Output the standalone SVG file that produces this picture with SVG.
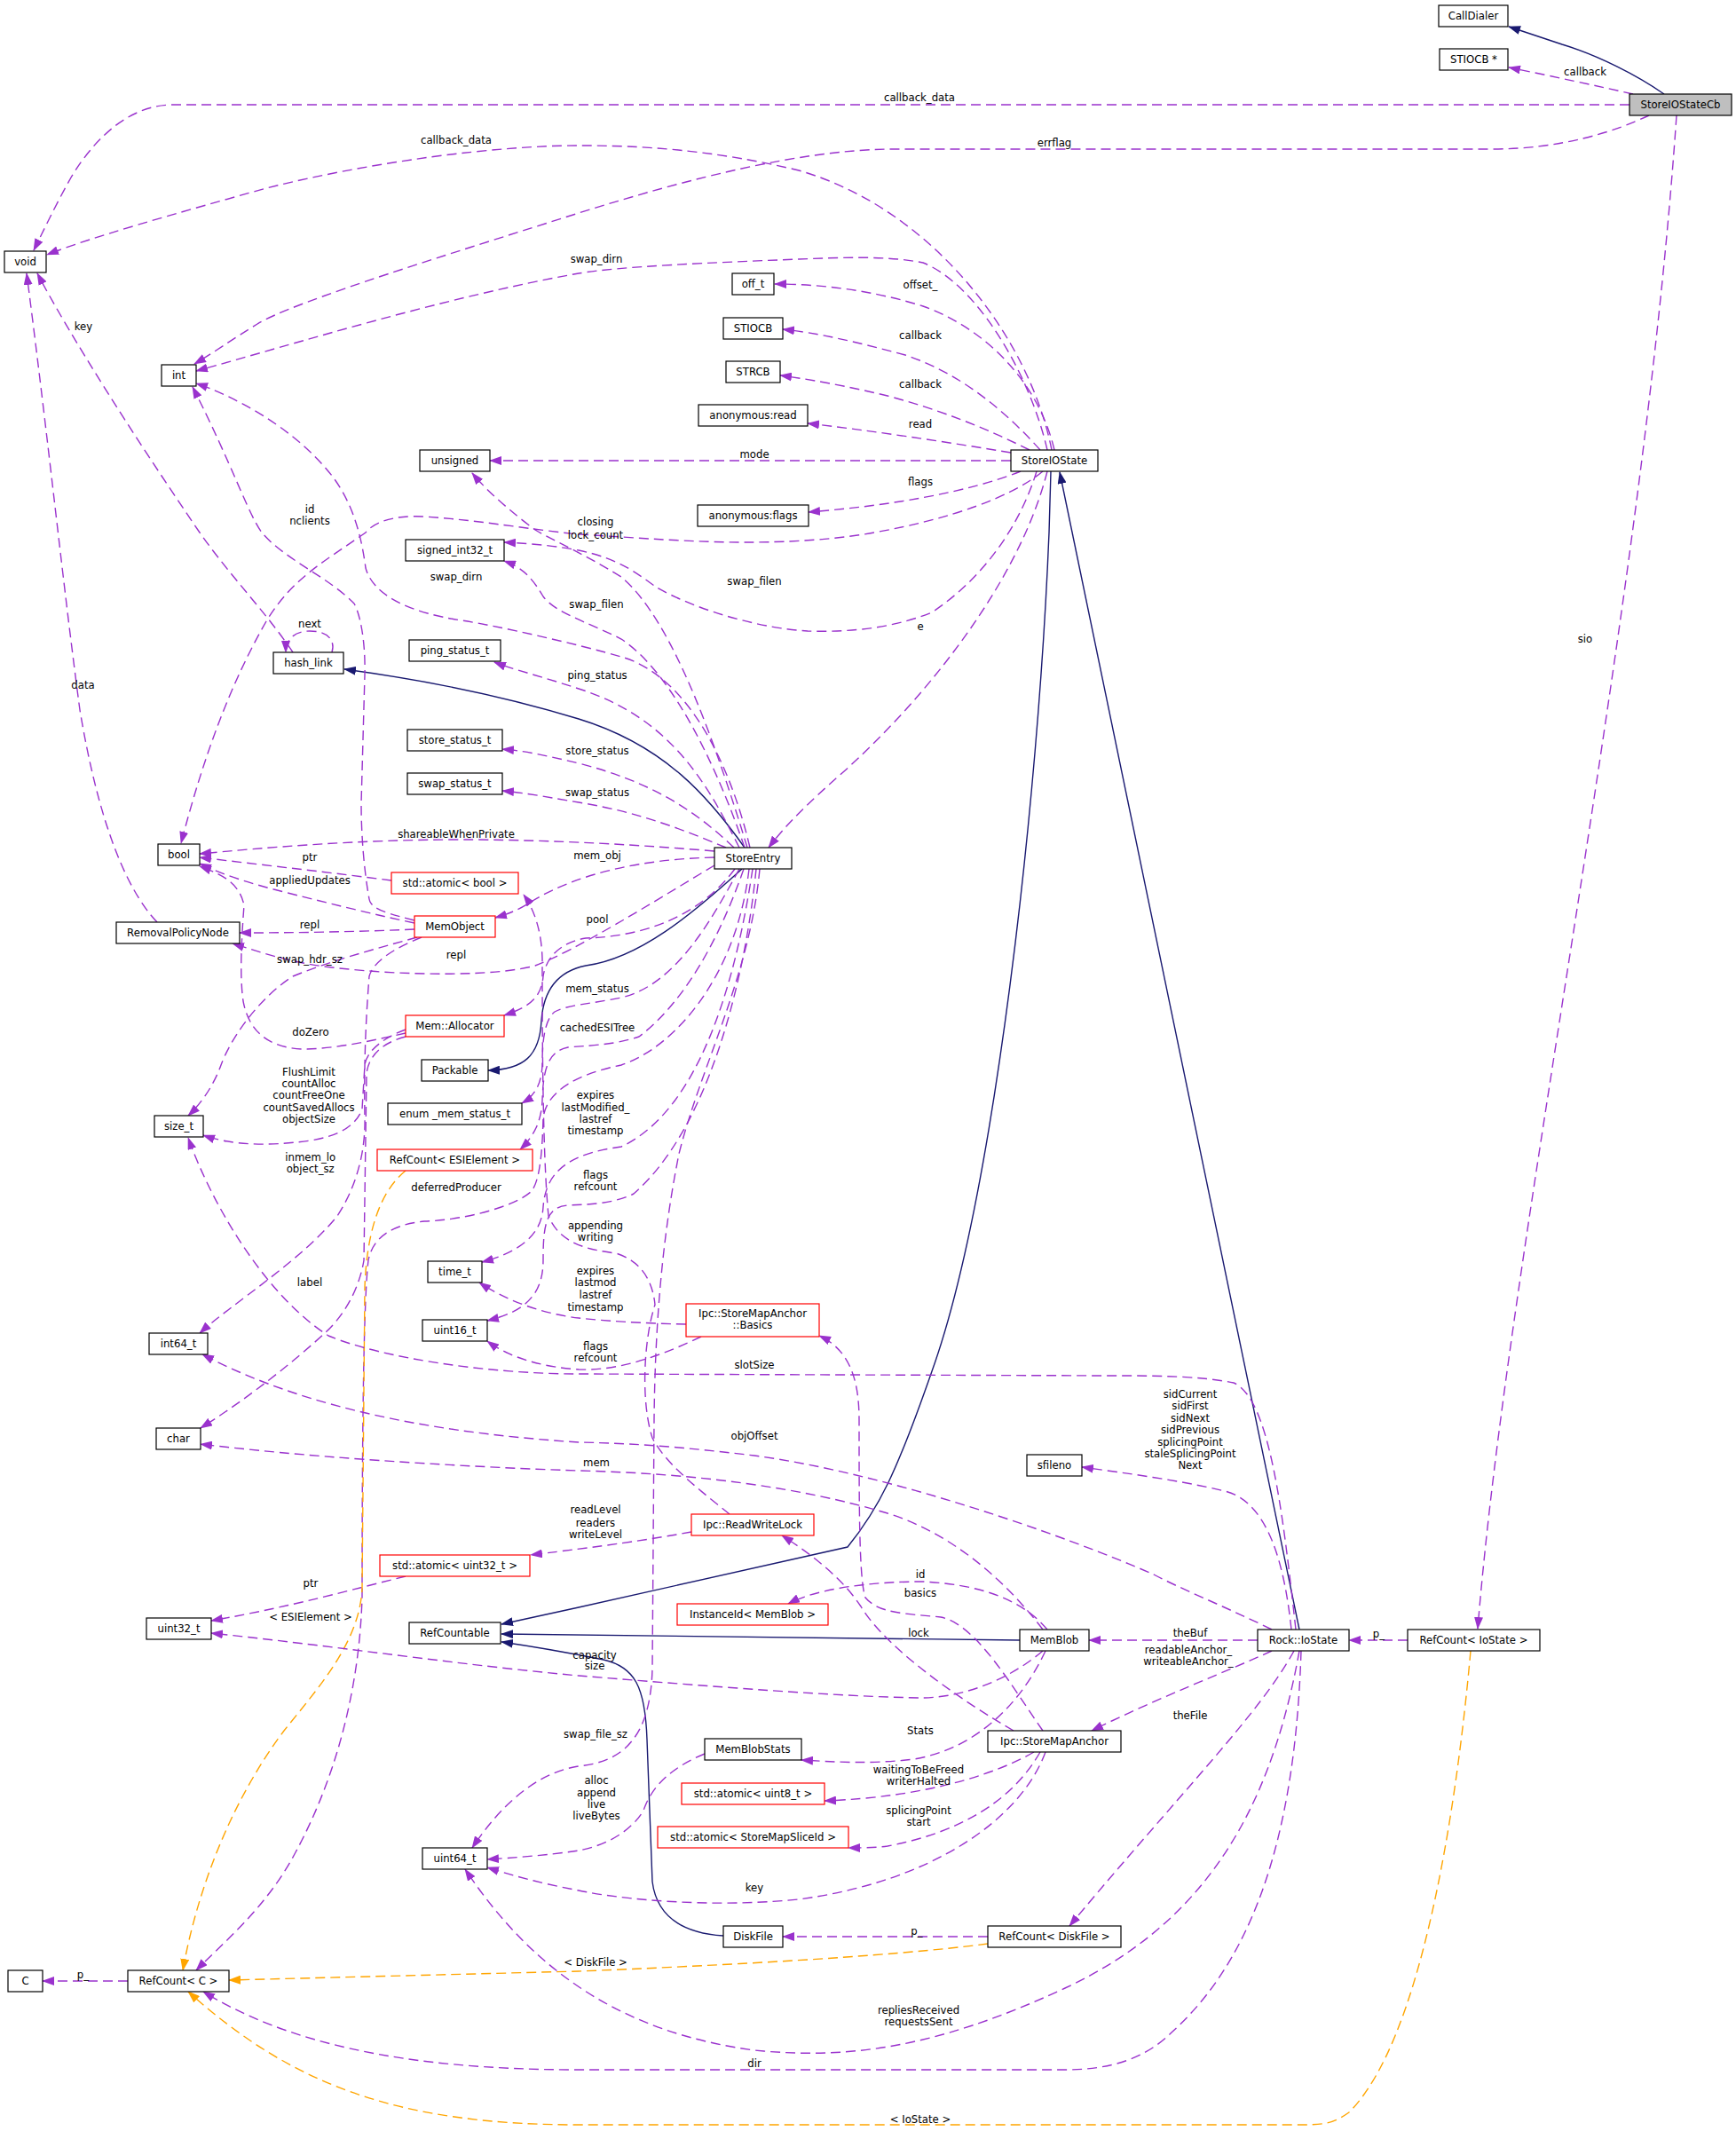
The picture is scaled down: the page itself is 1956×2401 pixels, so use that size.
<svg xmlns="http://www.w3.org/2000/svg" width="1956" height="2401" viewBox="0 0 1956 2401">
<style>
text{font-family:"DejaVu Sans","Liberation Sans",sans-serif;font-size:11.7px;fill:#000;text-anchor:middle}
.n rect{fill:#fff;stroke:#000;stroke-width:1.2}
.n.r rect{stroke:#ff0000}
.n.g rect{fill:#bfbfbf}
.e{fill:none;stroke:#9a32cd;stroke-width:1.4;stroke-dasharray:11,6;marker-end:url(#ap)}
.i{fill:none;stroke:#191970;stroke-width:1.4;marker-end:url(#an)}
.t{fill:none;stroke:#ffa500;stroke-width:1.4;stroke-dasharray:11,6;marker-end:url(#ao)}
.lp{fill:none;stroke:#9a32cd;stroke-width:1.4;stroke-dasharray:6,4;marker-end:url(#ap)}
</style>
<defs>
<marker id="ap" viewBox="0 0 14 10" refX="13" refY="5" markerWidth="14" markerHeight="10" markerUnits="userSpaceOnUse" orient="auto"><path d="M0,0 L14,5 L0,10 z" fill="#9a32cd"/></marker>
<marker id="an" viewBox="0 0 14 10" refX="13" refY="5" markerWidth="14" markerHeight="10" markerUnits="userSpaceOnUse" orient="auto"><path d="M0,0 L14,5 L0,10 z" fill="#191970"/></marker>
<marker id="ao" viewBox="0 0 14 10" refX="13" refY="5" markerWidth="14" markerHeight="10" markerUnits="userSpaceOnUse" orient="auto"><path d="M0,0 L14,5 L0,10 z" fill="#ffa500"/></marker>
</defs>
<rect x="0" y="0" width="1956" height="2401" fill="#fff"/>
<g id="edges">
<path class="i" d="M1875,106 C1845,85 1800,62 1760,50 L1700,30"/>
<path class="e" d="M1840,106 C1800,97 1750,86 1700,76"/>
<path class="e" d="M1836,118 L195,118 C150,118 110,150 80,200 C62,232 48,262 38,282"/>
<path class="e" d="M1858,130 C1820,148 1760,168 1680,168 L1000,168 C900,170 780,200 652,240 C520,282 330,340 290,365 C262,382 240,398 219,410"/>
<path class="e" d="M1889,130 C1850,700 1700,1400 1665,1835"/>
<path class="e" d="M1185,507 C1160,380 1050,235 900,192 C800,168 720,164 652,164 C560,164 420,182 300,212 C200,240 100,268 53,287"/>
<path class="e" d="M1180,507 C1160,420 1100,320 1040,296 C1000,288 950,290 900,292 C800,296 700,300 652,308 C500,335 330,388 221,418"/>
<path class="e" d="M1188,507 C1170,430 1110,370 1040,345 C980,326 920,320 873,320"/>
<path class="e" d="M1172,507 C1130,460 1080,420 1020,400 C960,384 920,375 882,371"/>
<path class="e" d="M1160,507 C1110,482 1060,462 1000,446 C950,434 910,427 879,423"/>
<path class="e" d="M1139,510 C1060,497 980,485 910,477"/>
<path class="e" d="M1139,519 L552,519"/>
<path class="e" d="M1150,531 C1090,555 1000,570 911,577"/>
<path class="e" d="M1168,531 C1150,590 1110,650 1050,690 C1000,710 950,712 910,711 C860,708 790,690 740,662 C720,648 700,630 652,620 C620,614 590,612 568,611"/>
<path class="e" d="M1175,531 C1140,560 1070,585 985,600 C930,610 870,611 839,611 C780,611 720,606 652,602 C600,597 540,586 478,582 C440,580 420,590 412,600 C370,630 330,650 300,700 C260,770 230,850 204,950"/>
<path class="e" d="M842,955 C810,850 760,700 700,650 C660,625 625,610 603,597 C580,580 550,555 532,533"/>
<path class="e" d="M1180,531 C1150,650 1050,780 950,870 C910,905 885,930 866,955"/>
<path class="i" d="M1464,1836 L1194,532"/>
<path class="i" d="M1184,531 L1182,600 C1170,900 1120,1350 1050,1545 C1010,1660 990,1700 955,1743 L652,1811 L565,1830"/>
<path class="i" d="M1149,1848 L565,1841"/>
<path class="i" d="M815,2181 C770,2178 740,2160 735,2120 L729,1960 C727,1900 715,1878 680,1870 C640,1862 600,1855 565,1850"/>
<path class="i" d="M839,955 C800,900 750,840 652,810 C560,782 470,765 388,754"/>
<path class="i" d="M836,979 C780,1030 720,1080 660,1088 C625,1095 612,1120 610,1150 C608,1190 590,1205 550,1206"/>
<path class="e" d="M845,955 C820,850 770,760 700,740 C652,726 560,705 520,699 C460,690 420,670 412,640 C408,610 400,570 374,536 C330,480 260,445 221,432"/>
<path class="e" d="M839,955 C810,870 760,760 700,720 C660,700 625,690 612,672 C600,652 590,640 568,632"/>
<path class="e" d="M833,955 C800,890 760,810 652,776 C610,762 580,755 557,746"/>
<path class="e" d="M827,955 C780,910 730,880 652,860 C610,850 590,846 566,844"/>
<path class="e" d="M818,955 C770,935 720,915 652,904 C610,897 590,893 566,891"/>
<path class="e" d="M805,959 C700,950 600,946 520,946 C400,946 300,955 225,962"/>
<path class="e" d="M805,966 C720,968 650,985 600,1015 C585,1025 572,1030 558,1034"/>
<path class="e" d="M805,975 C730,1020 650,1070 603,1088 C560,1100 460,1100 374,1090 C330,1085 300,1075 262,1063"/>
<path class="e" d="M828,979 C790,1030 730,1055 660,1057 C630,1062 615,1080 612,1100 C610,1125 595,1135 568,1144"/>
<path class="e" d="M833,979 C800,1040 760,1110 700,1124 C660,1132 640,1132 625,1140 C612,1150 611,1180 611,1200 C610,1225 600,1236 588,1243"/>
<path class="e" d="M838,979 C810,1060 770,1130 720,1168 C690,1178 660,1178 640,1180 C615,1185 612,1210 611,1240 C610,1265 600,1282 586,1295"/>
<path class="e" d="M848,979 C830,1100 790,1250 700,1292 C640,1300 615,1320 612,1360 C610,1395 580,1412 543,1422"/>
<path class="e" d="M852,979 C840,1100 800,1270 714,1345 C690,1357 660,1357 640,1358 C615,1360 612,1380 612,1420 C612,1460 590,1478 549,1488"/>
<path class="e" d="M856,979 C845,1100 790,1200 765,1300 C745,1400 738,1500 737,1600 L735,1880 C733,1960 700,1985 652,1990 C600,1998 560,2040 532,2082"/>
<path class="e" d="M844,979 C830,1100 760,1180 700,1200 C650,1210 615,1230 612,1260 C611,1300 608,1330 599,1342 C580,1360 520,1375 478,1376 C440,1380 420,1395 415,1420 C410,1460 408,1600 408,1800 C405,1900 380,2000 333,2087 C300,2150 250,2190 221,2220"/>
<path class="e" d="M467,1037 C440,1030 418,1025 416,1013 C410,980 407,940 407,906 L411,760 C412,720 405,690 399,680 C370,650 320,630 295,600 C280,580 260,520 217,436"/>
<path class="e" d="M467,1040 C420,1030 380,1020 320,1005 C280,995 250,985 225,973"/>
<path class="e" d="M441,992 C380,984 300,975 225,966"/>
<path class="e" d="M467,1047 C400,1050 330,1051 270,1051"/>
<path class="e" d="M470,1056 C420,1070 374,1082 330,1100 C291,1125 260,1170 249,1200 C240,1225 225,1245 212,1257"/>
<path class="e" d="M475,1056 C440,1070 420,1085 416,1100 C412,1150 410,1200 411,1260 C412,1300 400,1340 380,1370 C340,1420 260,1470 225,1502"/>
<path class="e" d="M457,1160 C430,1170 413,1185 411,1200 L408,1250 C400,1270 380,1280 350,1285 C300,1292 260,1290 229,1279"/>
<path class="e" d="M457,1164 C420,1172 380,1182 340,1182 C300,1180 280,1160 274,1128 C270,1100 272,1059 275,1020 C270,995 250,985 225,976"/>
<path class="e" d="M457,1168 C430,1175 415,1190 413,1210 L410,1420 C405,1450 390,1480 366,1502 C330,1535 280,1575 226,1609"/>
<path class="e" d="M457,1776 C400,1790 330,1810 238,1826"/>
<path class="t" d="M457,1319 C425,1345 413,1395 411,1450 L408,1790 C405,1850 360,1900 320,1950 C260,2030 222,2130 206,2220"/>
<path class="e" d="M822,1706 C790,1680 750,1650 735,1620 C722,1580 725,1510 738,1470 C735,1440 720,1420 694,1412 C660,1408 630,1400 618,1370 C611,1300 611,1150 611,1080 C610,1045 600,1022 590,1008"/>
<path class="e" d="M779,1726 C730,1735 680,1742 598,1752"/>
<path class="e" d="M773,1492 C720,1491 680,1488 652,1485 C610,1480 570,1465 540,1445"/>
<path class="e" d="M790,1506 C750,1525 700,1545 652,1543 C610,1540 575,1530 549,1511"/>
<path class="e" d="M1460,1836 C1445,1700 1430,1575 1390,1558 C1350,1550 1300,1550 1250,1550 L652,1548 C550,1548 430,1530 370,1505 C300,1460 240,1360 212,1282"/>
<path class="e" d="M1433,1836 C1380,1810 1330,1790 1300,1774 C1200,1730 1000,1660 850,1640 C750,1628 700,1626 652,1625 C500,1615 350,1590 228,1526"/>
<path class="e" d="M1455,1836 C1445,1740 1420,1690 1380,1680 C1330,1668 1270,1660 1219,1653"/>
<path class="e" d="M1175,1836 C1140,1790 1080,1730 1000,1705 C900,1675 780,1660 652,1657 C500,1652 330,1640 226,1627"/>
<path class="e" d="M1180,1836 C1150,1800 1100,1785 1040,1782 C980,1782 920,1790 888,1807"/>
<path class="e" d="M1175,1950 C1140,1900 1100,1830 1060,1822 C1020,1818 990,1818 975,1800 C968,1780 968,1700 968,1600 C968,1550 955,1520 923,1505"/>
<path class="e" d="M1142,1950 C1090,1920 1000,1860 970,1810 C950,1780 920,1755 881,1730"/>
<path class="e" d="M1175,1860 C1140,1890 1090,1912 1040,1913 C950,1912 800,1900 652,1888 C520,1876 380,1855 238,1840"/>
<path class="e" d="M1178,1860 C1150,1920 1100,1970 1030,1982 C980,1988 940,1985 903,1983"/>
<path class="e" d="M1417,1848 L1227,1848"/>
<path class="e" d="M1433,1860 C1390,1880 1300,1915 1230,1950"/>
<path class="e" d="M1458,1860 C1420,1930 1330,2020 1205,2170"/>
<path class="e" d="M1464,1860 C1430,2050 1350,2170 1200,2240 C1050,2310 950,2320 850,2310 C700,2290 600,2220 524,2106"/>
<path class="e" d="M1466,1860 C1460,2050 1420,2200 1320,2290 C1290,2320 1250,2332 1200,2332 L652,2332 C450,2332 320,2300 229,2244"/>
<path class="e" d="M1586,1848 L1520,1848"/>
<path class="t" d="M1657,1860 C1640,2050 1600,2300 1520,2380 C1500,2394 1490,2394 1460,2394 L652,2394 C450,2394 330,2350 212,2244"/>
<path class="e" d="M1165,1974 C1120,2000 1040,2025 929,2029"/>
<path class="e" d="M1172,1974 C1140,2030 1080,2065 1000,2080 C985,2082 970,2082 956,2082"/>
<path class="e" d="M1178,1974 C1150,2050 1050,2120 900,2140 C800,2150 700,2140 652,2130 C610,2122 580,2114 549,2104"/>
<path class="e" d="M794,1976 C760,1990 735,2010 725,2040 C710,2065 680,2080 652,2085 C620,2090 580,2093 549,2095"/>
<path class="e" d="M1113,2182 L882,2182"/>
<path class="t" d="M1113,2190 C1000,2205 800,2215 652,2221 L258,2231"/>
<path class="e" d="M144,2232 L48,2232"/>
<path class="e" d="M330,735 C300,690 260,650 225,600 C150,490 80,380 42,308"/>
<path class="e" d="M374,735 C378,722 370,711 349,711 C330,711 322,722 322,735"/>
<path class="e" d="M177,1039 C140,1000 110,920 90,800 C70,650 55,500 30,308"/>
<g id="edge-labels">
<text x="1786" y="85">callback</text>
<text x="1036" y="114">callback_data</text>
<text x="1188" y="165">errflag</text>
<text x="1786" y="724">sio</text>
<text x="514" y="162">callback_data</text>
<text x="672" y="296">swap_dirn</text>
<text x="1037" y="325">offset_</text>
<text x="1037" y="382">callback</text>
<text x="1037" y="437">callback</text>
<text x="1037" y="482">read</text>
<text x="850" y="516">mode</text>
<text x="1037" y="547">flags</text>
<text x="671" y="592">closing</text>
<text x="671" y="607">lock_count</text>
<text x="850" y="659">swap_filen</text>
<text x="672" y="685">swap_filen</text>
<text x="1037" y="710">e</text>
<text x="94" y="372">key</text>
<text x="349" y="578">id</text>
<text x="349" y="591">nclients</text>
<text x="514" y="654">swap_dirn</text>
<text x="349" y="707">next</text>
<text x="673" y="765">ping_status</text>
<text x="673" y="850">store_status</text>
<text x="673" y="897">swap_status</text>
<text x="93.5" y="776">data</text>
<text x="514" y="944">shareableWhenPrivate</text>
<text x="673" y="968">mem_obj</text>
<text x="349" y="970">ptr</text>
<text x="349" y="996">appliedUpdates</text>
<text x="349" y="1046">repl</text>
<text x="514" y="1080">repl</text>
<text x="349" y="1085">swap_hdr_sz</text>
<text x="673" y="1040">pool</text>
<text x="673" y="1118">mem_status</text>
<text x="673" y="1162">cachedESITree</text>
<text x="350" y="1167">doZero</text>
<text x="348" y="1212">FlushLimit</text>
<text x="348" y="1225">countAlloc</text>
<text x="348" y="1238">countFreeOne</text>
<text x="348" y="1251.5">countSavedAllocs</text>
<text x="348" y="1264.5">objectSize</text>
<text x="349.7" y="1308">inmem_lo</text>
<text x="349.7" y="1321">object_sz</text>
<text x="514" y="1342">deferredProducer</text>
<text x="671" y="1237.7">expires</text>
<text x="671" y="1251.5">lastModified_</text>
<text x="671" y="1264.5">lastref</text>
<text x="671" y="1277.5">timestamp</text>
<text x="671" y="1327.6">flags</text>
<text x="671" y="1340.6">refcount</text>
<text x="671" y="1384.6">appending</text>
<text x="671" y="1397.6">writing</text>
<text x="671" y="1436.3">expires</text>
<text x="671" y="1449.3">lastmod</text>
<text x="671" y="1463">lastref</text>
<text x="671" y="1476.5">timestamp</text>
<text x="349" y="1449">label</text>
<text x="671" y="1521">flags</text>
<text x="671" y="1533.5">refcount</text>
<text x="850" y="1541.5">slotSize</text>
<text x="850" y="1621.5">objOffset</text>
<text x="672" y="1652">mem</text>
<text x="671" y="1705.3">readLevel</text>
<text x="671" y="1719.5">readers</text>
<text x="671" y="1732.5">writeLevel</text>
<text x="1341" y="1575">sidCurrent</text>
<text x="1341" y="1588.4">sidFirst</text>
<text x="1341" y="1601.8">sidNext</text>
<text x="1341" y="1615.2">sidPrevious</text>
<text x="1341" y="1628.6">splicingPoint</text>
<text x="1341" y="1642">staleSplicingPoint</text>
<text x="1341" y="1655.4">Next</text>
<text x="350" y="1788">ptr</text>
<text x="350" y="1826">&lt; ESIElement &gt;</text>
<text x="1037" y="1778">id</text>
<text x="1037" y="1799">basics</text>
<text x="1035" y="1843.5">lock</text>
<text x="670" y="1869">capacity</text>
<text x="670" y="1881.4">size</text>
<text x="1341" y="1844">theBuf</text>
<text x="1339" y="1863">readableAnchor_</text>
<text x="1339" y="1876">writeableAnchor_</text>
<text x="1341" y="1937.4">theFile</text>
<text x="1037" y="1953.6">Stats</text>
<text x="671" y="1958">swap_file_sz</text>
<text x="1035" y="1998">waitingToBeFreed</text>
<text x="1035" y="2011">writerHalted</text>
<text x="672" y="2009.8">alloc</text>
<text x="672" y="2023.6">append</text>
<text x="672" y="2036.6">live</text>
<text x="672" y="2049.7">liveBytes</text>
<text x="1035" y="2044">splicingPoint</text>
<text x="1035" y="2056.6">start</text>
<text x="850" y="2131.4">key</text>
<text x="1033" y="2179.6">p_</text>
<text x="671" y="2214.7">&lt; DiskFile &gt;</text>
<text x="93.5" y="2229.4">p_</text>
<text x="1553.5" y="1845.4">p_</text>
<text x="1035" y="2268.6">repliesReceived</text>
<text x="1035" y="2281.6">requestsSent</text>
<text x="850" y="2329.4">dir</text>
<text x="1037" y="2391.6">&lt; IoState &gt;</text>
</g>
</g>
<g id="node-void" class="n"><rect x="5" y="283" width="47" height="24"/><text x="28.5" y="299">void</text></g>
<g id="node-int" class="n"><rect x="182" y="411" width="39" height="24"/><text x="201.5" y="427">int</text></g>
<g id="node-unsigned" class="n"><rect x="473" y="507" width="79" height="24"/><text x="512.5" y="523">unsigned</text></g>
<g id="node-off_t" class="n"><rect x="825" y="308" width="47" height="24"/><text x="848.5" y="324">off_t</text></g>
<g id="node-STIOCB" class="n"><rect x="815" y="358" width="67" height="24"/><text x="848.5" y="374">STIOCB</text></g>
<g id="node-STRCB" class="n"><rect x="818" y="407" width="61" height="24"/><text x="848.5" y="423">STRCB</text></g>
<g id="node-anon-read" class="n"><rect x="787" y="456" width="123" height="24"/><text x="848.5" y="472">anonymous:read</text></g>
<g id="node-StoreIOState" class="n"><rect x="1139" y="507" width="98" height="24"/><text x="1188" y="523">StoreIOState</text></g>
<g id="node-anon-flags" class="n"><rect x="786" y="569" width="125" height="24"/><text x="848.5" y="585">anonymous:flags</text></g>
<g id="node-CallDialer" class="n"><rect x="1621" y="6" width="78" height="24"/><text x="1660" y="22">CallDialer</text></g>
<g id="node-STIOCB-ptr" class="n"><rect x="1622" y="55" width="77" height="24"/><text x="1660.5" y="71">STIOCB *</text></g>
<g id="node-StoreIOStateCb" class="n g"><rect x="1836" y="106" width="115" height="24"/><text x="1893.5" y="122">StoreIOStateCb</text></g>
<g id="node-signed_int32_t" class="n"><rect x="457" y="608" width="111" height="24"/><text x="512.5" y="624">signed_int32_t</text></g>
<g id="node-hash_link" class="n"><rect x="308" y="735" width="79" height="24"/><text x="347.5" y="751">hash_link</text></g>
<g id="node-ping_status_t" class="n"><rect x="461" y="721" width="103" height="24"/><text x="512.5" y="737">ping_status_t</text></g>
<g id="node-store_status_t" class="n"><rect x="459" y="822" width="107" height="24"/><text x="512.5" y="838">store_status_t</text></g>
<g id="node-swap_status_t" class="n"><rect x="459" y="871" width="107" height="24"/><text x="512.5" y="887">swap_status_t</text></g>
<g id="node-bool" class="n"><rect x="178" y="951" width="47" height="24"/><text x="201.5" y="967">bool</text></g>
<g id="node-atomic-bool" class="n r"><rect x="441" y="983" width="143" height="24"/><text x="512.5" y="999">std::atomic&lt; bool &gt;</text></g>
<g id="node-RemovalPolicyNode" class="n"><rect x="131" y="1039" width="139" height="24"/><text x="200.5" y="1055">RemovalPolicyNode</text></g>
<g id="node-MemObject" class="n r"><rect x="467" y="1032" width="91" height="24"/><text x="512.5" y="1048">MemObject</text></g>
<g id="node-MemAllocator" class="n r"><rect x="457" y="1144" width="111" height="24"/><text x="512.5" y="1160">Mem::Allocator</text></g>
<g id="node-Packable" class="n"><rect x="475" y="1194" width="75" height="24"/><text x="512.5" y="1210">Packable</text></g>
<g id="node-StoreEntry" class="n"><rect x="805" y="955" width="87" height="24"/><text x="848.5" y="971">StoreEntry</text></g>
<g id="node-size_t" class="n"><rect x="174" y="1257" width="55" height="24"/><text x="201.5" y="1273">size_t</text></g>
<g id="node-mem_status_t" class="n"><rect x="437" y="1243" width="151" height="24"/><text x="512.5" y="1259">enum _mem_status_t</text></g>
<g id="node-RefCount-ESIElement" class="n r"><rect x="425" y="1295" width="175" height="24"/><text x="512.5" y="1311">RefCount&lt; ESIElement &gt;</text></g>
<g id="node-time_t" class="n"><rect x="482" y="1421" width="61" height="24"/><text x="512.5" y="1437">time_t</text></g>
<g id="node-uint16_t" class="n"><rect x="476" y="1487" width="73" height="24"/><text x="512.5" y="1503">uint16_t</text></g>
<g id="node-int64_t" class="n"><rect x="168" y="1502" width="66" height="24"/><text x="201" y="1518">int64_t</text></g>
<g id="node-char" class="n"><rect x="176" y="1609" width="50" height="24"/><text x="201" y="1625">char</text></g>
<g id="node-atomic-uint32" class="n r"><rect x="428" y="1752" width="169" height="24"/><text x="512.5" y="1768">std::atomic&lt; uint32_t &gt;</text></g>
<g id="node-Basics" class="n r"><rect x="773" y="1469" width="150" height="37"/><text x="848" y="1484">Ipc::StoreMapAnchor</text><text x="848" y="1497">::Basics</text></g>
<g id="node-ReadWriteLock" class="n r"><rect x="779" y="1706" width="138" height="24"/><text x="848" y="1722">Ipc::ReadWriteLock</text></g>
<g id="node-sfileno" class="n"><rect x="1157" y="1639" width="62" height="24"/><text x="1188" y="1655">sfileno</text></g>
<g id="node-uint32_t" class="n"><rect x="165" y="1823" width="73" height="24"/><text x="201.5" y="1839">uint32_t</text></g>
<g id="node-RefCountable" class="n"><rect x="461" y="1828" width="103" height="24"/><text x="512.5" y="1844">RefCountable</text></g>
<g id="node-uint64_t" class="n"><rect x="476" y="2082" width="73" height="24"/><text x="512.5" y="2098">uint64_t</text></g>
<g id="node-C" class="n"><rect x="9" y="2220" width="39" height="24"/><text x="28.5" y="2236">C</text></g>
<g id="node-RefCount-C" class="n"><rect x="144" y="2220" width="114" height="24"/><text x="201" y="2236">RefCount&lt; C &gt;</text></g>
<g id="node-InstanceId" class="n r"><rect x="763" y="1807" width="170" height="24"/><text x="848" y="1823">InstanceId&lt; MemBlob &gt;</text></g>
<g id="node-MemBlob" class="n"><rect x="1149" y="1836" width="78" height="24"/><text x="1188" y="1852">MemBlob</text></g>
<g id="node-MemBlobStats" class="n"><rect x="794" y="1959" width="109" height="24"/><text x="848.5" y="1975">MemBlobStats</text></g>
<g id="node-StoreMapAnchor" class="n"><rect x="1113" y="1950" width="150" height="24"/><text x="1188" y="1966">Ipc::StoreMapAnchor</text></g>
<g id="node-atomic-uint8" class="n r"><rect x="768" y="2009" width="161" height="24"/><text x="848.5" y="2025">std::atomic&lt; uint8_t &gt;</text></g>
<g id="node-atomic-slice" class="n r"><rect x="741" y="2058" width="215" height="24"/><text x="848.5" y="2074">std::atomic&lt; StoreMapSliceId &gt;</text></g>
<g id="node-DiskFile" class="n"><rect x="815" y="2170" width="67" height="24"/><text x="848.5" y="2186">DiskFile</text></g>
<g id="node-RefCount-DiskFile" class="n"><rect x="1113" y="2170" width="150" height="24"/><text x="1188" y="2186">RefCount&lt; DiskFile &gt;</text></g>
<g id="node-RockIoState" class="n"><rect x="1417" y="1836" width="103" height="24"/><text x="1468.5" y="1852">Rock::IoState</text></g>
<g id="node-RefCount-IoState" class="n"><rect x="1586" y="1836" width="149" height="24"/><text x="1660.5" y="1852">RefCount&lt; IoState &gt;</text></g>
</svg>
